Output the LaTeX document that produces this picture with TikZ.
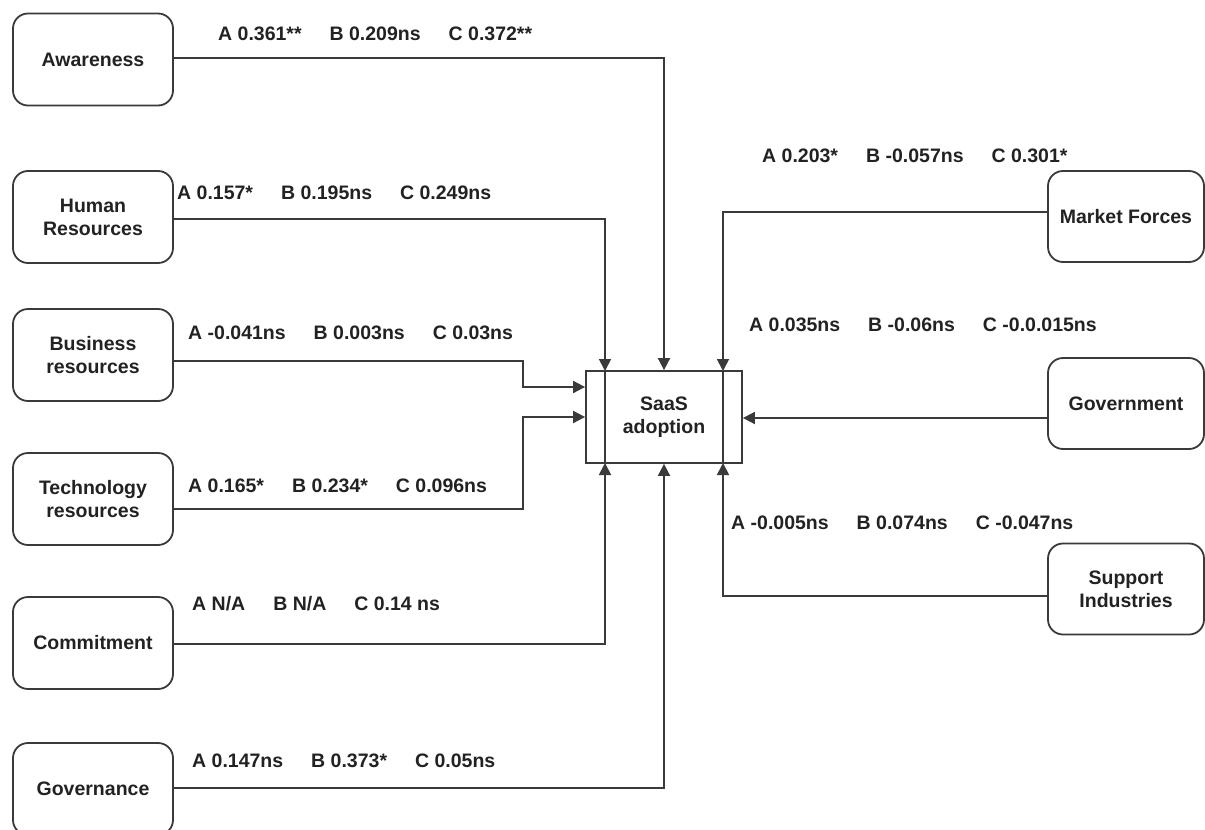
\documentclass[tikz,border=0pt]{standalone}
\usepackage{fontspec}
\setmainfont{Liberation Sans}
\usetikzlibrary{arrows.meta}
\definecolor{linec}{HTML}{3A3A3A}
\definecolor{textc}{HTML}{222222}
\newcommand{\cgap}{\hspace{28pt}}
\begin{document}
\begin{tikzpicture}[x=1pt,y=-1pt,
  every node/.style={font=\fontsize{19.5}{23}\selectfont\bfseries, text=textc},
  factor/.style={draw=linec, line width=1.8pt, rounded corners=15pt, align=center, inner sep=0pt},
  lbox/.style={factor, minimum width=160pt, minimum height=92pt},
  rbox/.style={factor, minimum width=156pt, minimum height=91pt},
  conn/.style={draw=linec, line width=1.8pt},
  arr/.style={conn, -{Triangle[length=12pt,width=12pt]}},
  coef/.style={anchor=base west, inner sep=0pt}
]
\useasboundingbox[fill=white] (0,0) rectangle (1205,830);

% left factors
\node[lbox] (aw)  at (93,59.5) {Awareness};
\node[lbox] (hr)  at (93,217)  {Human\\Resources};
\node[lbox] (bus) at (93,355)  {Business\\resources};
\node[lbox] (tec) at (93,499)  {Technology\\resources};
\node[lbox] (com) at (93,643)  {Commitment};
\node[lbox] (gov) at (93,789)  {Governance};

% right factors
\node[rbox] (mf)  at (1126,216.5) {Market Forces};
\node[rbox] (gvt) at (1126,403.5) {Government};
\node[rbox] (sup) at (1126,589)   {Support\\Industries};

% central box
\node[draw=linec, line width=1.8pt, minimum width=156pt, minimum height=92pt, align=center, inner sep=0pt] (saas) at (664,417) {SaaS\\adoption};
\coordinate (nl) at (605,371);
\coordinate (sl) at (605,463);
\coordinate (nr) at (723,371);
\coordinate (sr) at (723,463);
\draw[conn] (nl) -- (sl);
\draw[conn] (nr) -- (sr);

% connectors
\draw[arr] ([yshift=1.5pt]aw.east) -| (saas.north);
\draw[arr] ([yshift=-2pt]hr.east) -| (nl);
\draw[arr] ([yshift=-6pt]bus.east) -- ++(349,0) |- ([yshift=30pt]saas.west);
\draw[arr] ([yshift=-10pt]tec.east) -- ++(349,0) |- (saas.west);
\draw[arr] ([yshift=-1pt]com.east) -| (sl);
\draw[arr] ([yshift=1pt]gov.east) -| (saas.south);
\draw[arr] ([yshift=4.5pt]mf.west) -| (nr);
\draw[arr] ([yshift=-14.5pt]gvt.west) -- ([yshift=-1pt]saas.east);
\draw[arr] ([yshift=-7pt]sup.west) -| (sr);

% coefficients
\node[coef] (la) at (218,40)  {A 0.361**\cgap B 0.209ns\cgap C 0.372**};
\node[coef] (lh) at (177,199) {A 0.157*\cgap B 0.195ns\cgap C 0.249ns};
\node[coef] (lb) at (188,339) {A -0.041ns\cgap B 0.003ns\cgap C 0.03ns};
\node[coef] (lt) at (188,492) {A 0.165*\cgap B 0.234*\cgap C 0.096ns};
\node[coef] (lc) at (192,610) {A N/A\cgap B N/A\cgap C 0.14 ns};
\node[coef] (lg) at (192,767) {A 0.147ns\cgap B 0.373*\cgap C 0.05ns};
\node[coef] (lm) at (762,162) {A 0.203*\cgap B -0.057ns\cgap C 0.301*};
\node[coef] (lv) at (749,331) {A 0.035ns\cgap B -0.06ns\cgap C -0.0.015ns};
\node[coef] (ls) at (731,529) {A -0.005ns\cgap B 0.074ns\cgap C -0.047ns};
\end{tikzpicture}
\end{document}
